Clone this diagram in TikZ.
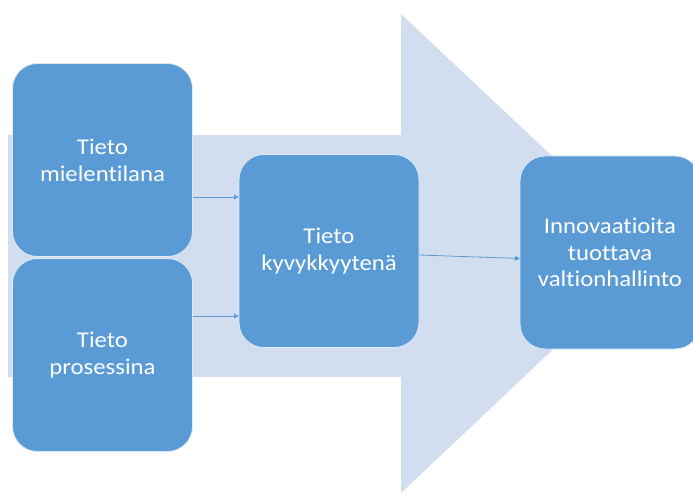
\documentclass[tikz,border=0pt]{standalone}
\usepackage{fontspec}
\setmainfont{Carlito}[Ligatures=NoCommon,FakeStretch=1.1]
\usetikzlibrary{positioning,arrows.meta}
\definecolor{boxblue}{HTML}{5B9BD5}
\definecolor{arrowpale}{HTML}{D2DEEF}

\begin{document}
\begin{tikzpicture}[x=1pt,y=-1pt,
  stage/.style={rectangle,rounded corners=25pt,fill=boxblue,draw=white!80!boxblue,line width=0.8pt,
    minimum width=180pt,minimum height=193pt,inner sep=0pt,outer sep=0pt,
    text=white,align=center,font=\fontsize{22.5}{26.7}\selectfont},
  conn/.style={draw=boxblue,line width=0.8pt,-{Triangle[length=5pt,width=4.5pt]}}]
\useasboundingbox (0,0) rectangle (693,494);
% big background arrow
\fill[arrowpale] (8,135) -- (401,135) -- (401,14) -- (655,253) -- (401,493) -- (401,377) -- (8,377) -- cycle;
\node[stage] (mind) at (102.5,160) {Tieto\\mielentilana};
\node[stage] (process) [below=2pt of mind] {Tieto\\prosessina};
\node[stage] (ability) at (329,251) {Tieto\\kyvykkyytenä};
\node[stage] (govt) at (610,252.5) {Innovaatioita\\tuottava\\valtionhallinto};
\draw[conn] ([yshift=-37pt]mind.east) coordinate (m1) -- (m1 -| ability.west);
\draw[conn] ([yshift=39pt]process.east) coordinate (p1) -- (p1 -| ability.west);
\draw[conn] ([yshift=-4pt]ability.east) -- ([yshift=-6pt]govt.west);
\end{tikzpicture}
\end{document}
